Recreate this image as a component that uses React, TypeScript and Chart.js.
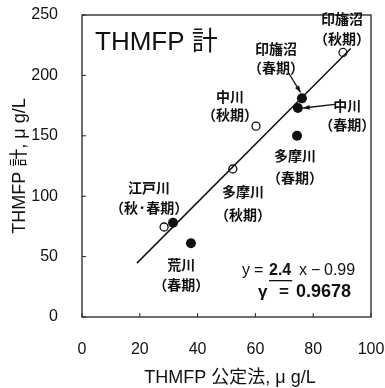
import React, { useEffect, useRef } from "react";
import { Chart, registerables } from "chart.js";

Chart.register(...registerables);

// Spring (filled) measurements
const springNames = ["印旛沼", "中川", "多摩川", "江戸川", "荒川"];
const springX = [76.1, 74.7, 74.4, 31.5, 37.7];
const springY = [181, 173, 150, 78, 61];
// Autumn (open) measurements
const autumnNames = ["印旛沼", "中川", "多摩川", "江戸川"];
const autumnX = [90.3, 60.2, 52.2, 28.4];
const autumnY = [219, 158, 122.5, 74.5];
// Regression line end points
const fitX = [19, 93];
const fitY = [44.6, 222.2];
const xTicks = [0, 20, 40, 60, 80, 100];
const yTicks = [0, 50, 100, 150, 200, 250];

// label anchors in data units: [text line 1, text line 2, x, y1, y2]
const labels: [string, string, number, number, number][] = [
  ["印旛沼", "（秋期）", 90, 246.7, 230],
  ["印旛沼", "（春期）", 67.1, 221.9, 206.1],
  ["中川", "（秋期）", 51.2, 182.1, 167.2],
  ["中川", "（春期）", 91.8, 174.7, 158.9],
  ["多摩川", "（春期）", 73.7, 133.3, 115.1],
  ["多摩川", "（秋期）", 55.7, 103.5, 84.4],
  ["江戸川", "（秋·春期）", 23.2, 106.8, 90.2],
  ["荒川", "（春期）", 34.3, 43, 26.5],
];
// arrows: from (x,y) to (x,y) in data units
const arrows: [number, number, number, number][] = [
  [71.5, 202, 75.6, 186],
  [87.5, 176, 76.5, 173],
];

const JP = '"Noto Sans CJK JP", "Liberation Sans", sans-serif';
const SANS = '"Liberation Sans", "Noto Sans CJK JP", Arial, sans-serif';

const overlay = {
  id: "overlay",
  afterDraw(chart: any) {
    const ctx = chart.ctx;
    const { left, right, top, bottom } = chart.chartArea;
    const xs = chart.scales.x;
    const ys = chart.scales.y;
    ctx.save();
    // frame
    ctx.strokeStyle = "#222";
    ctx.lineWidth = 1.3;
    ctx.strokeRect(left, top, right - left, bottom - top);
    // inward ticks
    ctx.lineWidth = 1;
    xTicks.forEach((v) => {
      const px = xs.getPixelForValue(v);
      ctx.beginPath();
      ctx.moveTo(px, bottom);
      ctx.lineTo(px, bottom - 4);
      ctx.stroke();
    });
    yTicks.forEach((v) => {
      const py = ys.getPixelForValue(v);
      ctx.beginPath();
      ctx.moveTo(left, py);
      ctx.lineTo(left + 4, py);
      ctx.stroke();
    });
    // title
    ctx.fillStyle = "#111";
    ctx.textBaseline = "middle";
    ctx.textAlign = "left";
    ctx.font = `26px ${SANS}`;
    ctx.fillText("THMFP 計", left + 13, top + 28);
    // labels
    ctx.textAlign = "center";
    ctx.font = `bold 14px ${JP}`;
    labels.forEach(([a, b, x, y1, y2]) => {
      const px = xs.getPixelForValue(x);
      ctx.fillText(a, px, ys.getPixelForValue(y1));
      ctx.fillText(b, px, ys.getPixelForValue(y2));
    });
    // arrows
    ctx.lineWidth = 1.3;
    ctx.strokeStyle = "#111";
    arrows.forEach(([x1, y1, x2, y2]) => {
      const ax = xs.getPixelForValue(x1), ay = ys.getPixelForValue(y1);
      const bx = xs.getPixelForValue(x2), by = ys.getPixelForValue(y2);
      ctx.beginPath();
      ctx.moveTo(ax, ay);
      ctx.lineTo(bx, by);
      ctx.stroke();
      const ang = Math.atan2(by - ay, bx - ax);
      ctx.beginPath();
      ctx.moveTo(bx, by);
      ctx.lineTo(bx - 7 * Math.cos(ang - 0.35), by - 7 * Math.sin(ang - 0.35));
      ctx.lineTo(bx - 7 * Math.cos(ang + 0.35), by - 7 * Math.sin(ang + 0.35));
      ctx.closePath();
      ctx.fill();
    });
    // equation
    ctx.textAlign = "left";
    const ey1 = 271, ey2 = 292;
    ctx.font = `16px ${SANS}`;
    ctx.fillText("y", 242, ey1);
    ctx.fillText("=", 254, ey1);
    ctx.font = `bold 16px ${SANS}`;
    ctx.fillText("2.4", 269, ey1);
    const w2 = ctx.measureText("2.4").width;
    ctx.fillRect(269, ey1 + 9, w2 + 1, 1.3);
    ctx.font = `16px ${SANS}`;
    ctx.fillText("x", 299, ey1);
    ctx.fillText("−", 311, ey1);
    ctx.fillText("0.99", 324, ey1);
    ctx.font = `bold 17px ${SANS}`;
    ctx.fillText("γ", 258, ey2);
    ctx.fillText("=", 279, ey2);
    ctx.font = `bold 18px ${SANS}`;
    ctx.fillText("0.9678", 296, ey2);
    // x axis title
    ctx.textAlign = "center";
    ctx.font = `18px ${SANS}`;
    ctx.fillText("THMFP 公定法, μ g/L", 230, 378);
    ctx.restore();
  },
};

export default function App() {
  const ref = useRef<HTMLCanvasElement>(null);
  useEffect(() => {
    document.body.style.margin = "0";
    const chart = new Chart(ref.current!, {
      type: "scatter",
      data: {
        datasets: [
          {
            type: "line",
            data: fitX.map((x, i) => ({ x, y: fitY[i] })),
            borderColor: "#111",
            borderWidth: 1.5,
            pointRadius: 0,
            fill: false,
          } as any,
          {
            label: "秋期",
            data: autumnX.map((x, i) => ({ x, y: autumnY[i], n: autumnNames[i] })),
            pointRadius: 4,
            pointBackgroundColor: "#fff",
            pointBorderColor: "#111",
            pointBorderWidth: 1.3,
          },
          {
            label: "春期",
            data: springX.map((x, i) => ({ x, y: springY[i], n: springNames[i] })),
            pointRadius: 5,
            pointBackgroundColor: "#111",
            pointBorderColor: "#111",
            pointBorderWidth: 0,
          },
        ],
      },
      options: {
        animation: false,
        responsive: false,
        maintainAspectRatio: false,
        layout: { padding: { top: 15, right: 14, left: 0, bottom: 0 } },
        plugins: { legend: { display: false }, tooltip: { enabled: false } },
        scales: {
          x: {
            type: "linear",
            min: 0,
            max: 100,
            afterBuildTicks: (s: any) => { s.ticks = xTicks.map((v) => ({ value: v })); },
            afterFit: (s: any) => { s.height = 71; s.paddingLeft = 0; s.paddingRight = 0; },
            grid: { display: false },
            border: { display: false },
            ticks: { color: "#111", font: { family: SANS, size: 16 }, padding: 15, maxRotation: 0 },
          },
          y: {
            type: "linear",
            min: 0,
            max: 250,
            afterBuildTicks: (s: any) => { s.ticks = yTicks.map((v) => ({ value: v })); },
            afterFit: (s: any) => { s.width = 82; s.paddingTop = 0; s.paddingBottom = 0; },
            grid: { display: false },
            border: { display: false },
            ticks: { color: "#111", font: { family: SANS, size: 16 }, padding: 16 },
            title: {
              display: true,
              text: "THMFP 計, μ g/L",
              color: "#111",
              font: { family: SANS, size: 18 },
              padding: { top: 9, bottom: 0 },
            },
          },
        },
      },
      plugins: [overlay],
    });
    return () => chart.destroy();
  }, []);
  return (
    <div style={{ position: "absolute", left: 0, top: 0, width: 385, height: 388 }}>
      <canvas ref={ref} width={385} height={388} style={{ width: 385, height: 388 }} />
    </div>
  );
}
